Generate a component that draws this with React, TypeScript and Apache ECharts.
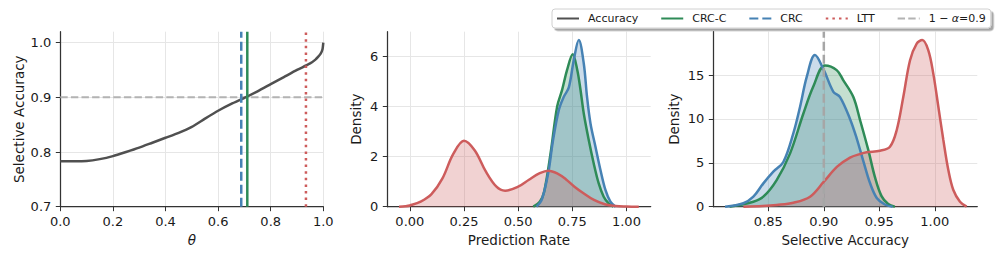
import React, { useEffect, useRef } from 'react';
import * as echarts from 'echarts';

// ---------- Panel 1: selective accuracy vs theta ----------
const THETA = [0, 0.05, 0.1, 0.15, 0.2, 0.25, 0.3, 0.35, 0.4, 0.45, 0.5, 0.55, 0.6, 0.65, 0.7, 0.75, 0.8, 0.85, 0.9, 0.95, 0.97, 0.98, 0.99, 0.997, 1.0];
const SEL_ACC = [0.783, 0.783, 0.7835, 0.787, 0.7925, 0.8, 0.808, 0.817, 0.826, 0.835, 0.846, 0.861, 0.8755, 0.888, 0.899, 0.911, 0.924, 0.937, 0.95, 0.962, 0.969, 0.974, 0.98, 0.988, 1.0];
const THR_CRCC = 0.711;
const THR_CRC = 0.688;
const THR_LTT = 0.934;
const TARGET = 0.9;

// ---------- Panel 2: prediction rate densities ----------
const PR_CRCC_X = [0.57, 0.6, 0.62, 0.65, 0.68, 0.703, 0.726, 0.752, 0.773, 0.788, 0.803, 0.826, 0.849, 0.872, 0.895, 0.918, 0.94];
const PR_CRCC_Y = [0, 0.2, 0.6, 2.15, 4.0, 4.67, 5.47, 6.1, 5.47, 4.67, 3.73, 2.67, 1.73, 0.93, 0.4, 0.13, 0];
const PR_CRC_X = [0.585, 0.61, 0.64, 0.66, 0.688, 0.711, 0.734, 0.757, 0.78, 0.803, 0.818, 0.834, 0.857, 0.88, 0.903, 0.926, 0.95];
const PR_CRC_Y = [0, 0.3, 1.4, 2.6, 3.87, 4.4, 4.77, 5.87, 6.67, 5.73, 4.4, 3.33, 2.4, 1.47, 0.67, 0.2, 0];
const PR_LTT_X = [-0.05, -0.02, 0.0, 0.05, 0.1, 0.15, 0.2, 0.25, 0.3, 0.35, 0.4, 0.44, 0.5, 0.55, 0.6, 0.64, 0.68, 0.72, 0.76, 0.8, 0.85, 0.9, 0.95, 1.0, 1.057];
const PR_LTT_Y = [0, 0.02, 0.05, 0.2, 0.5, 1.12, 2.1, 2.64, 2.25, 1.42, 0.8, 0.64, 0.8, 1.08, 1.34, 1.44, 1.33, 1.1, 0.8, 0.55, 0.27, 0.1, 0.03, 0.01, 0];

// ---------- Panel 3: selective accuracy densities ----------
const SA_CRCC_X = [0.815, 0.8365, 0.8455, 0.8575, 0.8696, 0.8815, 0.8905, 0.901, 0.9116, 0.9176, 0.9266, 0.9326, 0.94, 0.946, 0.952, 0.958, 0.964];
const SA_CRCC_Y = [0, 0.57, 1.14, 3.04, 6.08, 10.6, 13.7, 16.1, 15.57, 14.4, 12.5, 9.9, 6.5, 3.4, 1.2, 0.3, 0];
const SA_CRC_X = [0.811, 0.8275, 0.8365, 0.8455, 0.8545, 0.8635, 0.8725, 0.8786, 0.8846, 0.892, 0.9, 0.9086, 0.9146, 0.9236, 0.9296, 0.9356, 0.9416, 0.9477, 0.955, 0.962];
const SA_CRC_Y = [0, 0.39, 1.14, 2.66, 4.0, 5.1, 8.36, 11.4, 14.8, 17.28, 15.57, 13.1, 12.5, 10.0, 7.8, 5.2, 2.7, 1.0, 0.25, 0];
const SA_LTT_X = [0.8275, 0.845, 0.8575, 0.8725, 0.8876, 0.9, 0.912, 0.9236, 0.9326, 0.9386, 0.9506, 0.9596, 0.9657, 0.9716, 0.9777, 0.9837, 0.9887, 0.9941, 0.9986, 1.0032, 1.0077, 1.0122, 1.0167, 1.0227, 1.0287];
const SA_LTT_Y = [0, 0.08, 0.2, 0.45, 1.14, 2.85, 4.56, 5.6, 6.0, 6.2, 6.38, 6.83, 8.74, 12.5, 16.7, 18.6, 18.99, 17.85, 15.2, 11.4, 7.6, 4.18, 1.9, 0.57, 0];

// ---------- ticks ----------
const P1_X_TICKS = [0, 0.2, 0.4, 0.6, 0.8, 1.0];
const P1_Y_TICKS = [0.7, 0.8, 0.9, 1.0];
const P2_X_TICKS = [0, 0.25, 0.5, 0.75, 1.0];
const P2_Y_TICKS = [0, 2, 4, 6];
const P3_X_TICKS = [0.85, 0.9, 0.95, 1.0];
const P3_Y_TICKS = [0, 5, 10, 15];

const ALPHA_LABEL = '1 − α=0.9';
const LEGEND_NAMES = ['Accuracy', 'CRC-C', 'CRC', 'LTT', ALPHA_LABEL];

const C_ACC = '#505050';
const C_GREEN = '#2e8b57';
const C_BLUE = '#4682b4';
const C_RED = '#cd5c5c';
const C_GRAY = '#b3b3b3';

const zip = (xs: number[], ys: number[]) => xs.map((x, i) => [x, ys[i]]);

const FONT = 'DejaVu Sans';

function makeX(idx: number, min: number, max: number, ticks: number[], digits: number, name: string, nameStyle: any = {}) {
  return {
    type: 'value', gridIndex: idx, min, max,
    name, nameLocation: 'middle', nameGap: 26,
    nameTextStyle: { fontSize: 13.5, color: '#1a1a1a', fontFamily: FONT, ...nameStyle },
    axisLine: { show: true, onZero: false, lineStyle: { color: '#333', width: 1.25 } },
    axisTick: { show: true, length: 4.5, customValues: ticks, lineStyle: { color: '#333', width: 1 } },
    axisLabel: { show: true, customValues: ticks, margin: 8, fontSize: 13, color: '#1a1a1a', fontFamily: FONT,
      formatter: (v: number) => v.toFixed(digits) },
    splitLine: { show: true, lineStyle: { color: '#e6e6e6', width: 1 } },
  };
}
function makeY(idx: number, min: number, max: number, ticks: number[], digits: number, name: string, gap: number) {
  return {
    type: 'value', gridIndex: idx, min, max,
    name, nameLocation: 'middle', nameGap: gap,
    nameTextStyle: { fontSize: 13.5, color: '#1a1a1a', fontFamily: FONT },
    axisLine: { show: true, onZero: false, lineStyle: { color: '#333', width: 1.25 } },
    axisTick: { show: true, length: 4.5, customValues: ticks, lineStyle: { color: '#333', width: 1 } },
    axisLabel: { show: true, customValues: ticks, margin: 9, fontSize: 13, color: '#1a1a1a', fontFamily: FONT,
      formatter: (v: number) => v.toFixed(digits) },
    splitLine: { show: true, lineStyle: { color: '#e6e6e6', width: 1 } },
  };
}

function lineS(name: string | undefined, idx: number, data: number[][], color: string, width: number, type: any, extra: any = {}) {
  const s: any = {
    type: 'line', xAxisIndex: idx, yAxisIndex: idx, data,
    symbol: 'none', showSymbol: false, color,
    lineStyle: { color, width, type, cap: 'butt' },
    emphasis: { disabled: true }, silent: true,
    ...extra,
  };
  if (name) s.name = name;
  return s;
}
function kde(name: string, idx: number, xs: number[], ys: number[], color: string) {
  return lineS(name, idx, zip(xs, ys), color, 2.5, 'solid', {
    smooth: 0.35,
    areaStyle: { color, opacity: 0.28 },
  });
}

export default function App() {
  const ref = useRef<HTMLDivElement>(null);
  useEffect(() => {
    document.body.style.margin = '0';
    if (!ref.current) return;
    const chart = echarts.init(ref.current, undefined, { renderer: 'svg' });
    const P1_YMAX = 1.02;
    const P3_YMAX = 19.95;
    chart.setOption({
      animation: false,
      textStyle: { fontFamily: FONT },
      grid: [
        { left: 60.3, top: 31.7, width: 263, height: 175 },
        { left: 387.3, top: 31.7, width: 263.4, height: 175 },
        { left: 713.3, top: 31.7, width: 264, height: 175 },
      ],
      xAxis: [
        makeX(0, 0, 1, P1_X_TICKS, 1, 'θ', { fontStyle: 'italic' }),
        makeX(1, -0.104, 1.112, P2_X_TICKS, 2, 'Prediction Rate'),
        makeX(2, 0.8004, 1.0383, P3_X_TICKS, 2, 'Selective Accuracy'),
      ],
      yAxis: [
        makeY(0, 0.7, P1_YMAX, P1_Y_TICKS, 1, 'Selective Accuracy', 34),
        makeY(1, 0, 7, P2_Y_TICKS, 0, 'Density', 24),
        makeY(2, 0, P3_YMAX, P3_Y_TICKS, 0, 'Density', 32),
      ],
      legend: {
        data: LEGEND_NAMES,
        left: 552, top: 9,
        orient: 'horizontal',
        padding: [4, 5, 4, 4],
        itemWidth: 22, itemHeight: 12, itemGap: 22,
        backgroundColor: '#ffffff',
        borderColor: '#d0d0d0', borderWidth: 1, borderRadius: 3,
        shadowColor: 'rgba(0,0,0,0.35)', shadowOffsetX: 2.5, shadowOffsetY: 2.5, shadowBlur: 1,
        textStyle: { fontSize: 11, color: '#1a1a1a', fontFamily: FONT, padding: [0, 0, 0, 4],
          rich: { i: { fontStyle: 'italic', fontSize: 11, fontFamily: FONT, color: '#1a1a1a' } } },
        formatter: (n: string) => (n === ALPHA_LABEL ? '1 − {i|α}=0.9' : n),
        itemStyle: { opacity: 0 },
        selectedMode: false,
      },
      series: [
        // panel 1
        lineS(ALPHA_LABEL, 0, [[0, TARGET], [1, TARGET]], C_GRAY, 2, [7.4, 3.2]),
        lineS('Accuracy', 0, zip(THETA, SEL_ACC), C_ACC, 2.5, 'solid', { smooth: 0.2 }),
        lineS('CRC-C', 0, [[THR_CRCC, 0.7], [THR_CRCC, P1_YMAX]], C_GREEN, 2.5, 'solid'),
        lineS('CRC', 0, [[THR_CRC, 0.7], [THR_CRC, P1_YMAX]], C_BLUE, 2.5, [9, 4]),
        lineS('LTT', 0, [[THR_LTT, 0.7], [THR_LTT, P1_YMAX]], C_RED, 2.5, [2.5, 4.1]),
        // panel 2
        kde('CRC-C', 1, PR_CRCC_X, PR_CRCC_Y, C_GREEN),
        kde('CRC', 1, PR_CRC_X, PR_CRC_Y, C_BLUE),
        kde('LTT', 1, PR_LTT_X, PR_LTT_Y, C_RED),
        // panel 3
        kde('CRC-C', 2, SA_CRCC_X, SA_CRCC_Y, C_GREEN),
        kde('CRC', 2, SA_CRC_X, SA_CRC_Y, C_BLUE),
        kde('LTT', 2, SA_LTT_X, SA_LTT_Y, C_RED),
        lineS(undefined, 2, [[TARGET, 0], [TARGET, P3_YMAX]], '#a6a6a6', 2.5, [9, 4]),
      ],
    });
    return () => chart.dispose();
  }, []);
  return <div ref={ref} style={{ width: 997, height: 259 }} />;
}
